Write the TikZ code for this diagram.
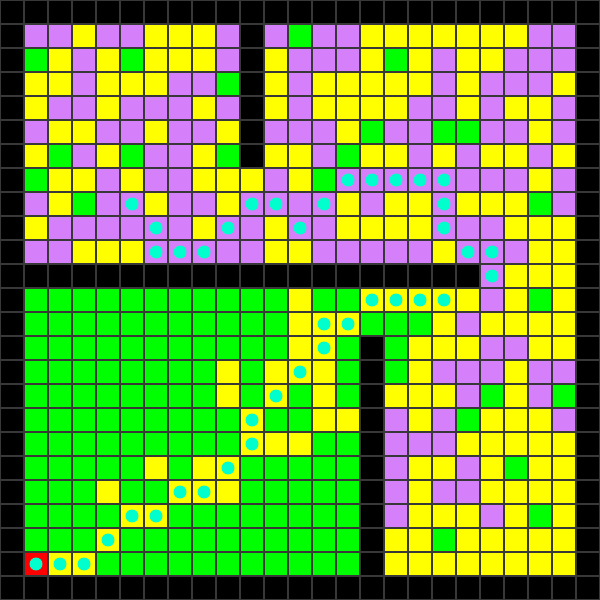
\documentclass[tikz,border=0pt]{standalone}
\usepackage{xcolor}
\usepackage{tikz}

\definecolor{colB}{RGB}{0,0,0}
\definecolor{colP}{RGB}{213,128,250}
\definecolor{colY}{RGB}{255,255,0}
\definecolor{colG}{RGB}{0,255,0}
\definecolor{colR}{RGB}{255,0,0}
\definecolor{gridc}{RGB}{56,56,56}
\definecolor{dotc}{RGB}{0,255,204}

\begin{document}
\begin{tikzpicture}[
    x=4mm, y=-4mm,
    cell/.style={line width=0pt},
    pathdot/.style={fill=dotc, draw=none}
]
\useasboundingbox (0,0) rectangle (25,25);
\fill[gridc] (0,0) rectangle (25,25);

% maze cells, one row of letters per line
\foreach \row [count=\r from 0] in {
  {B,B,B,B,B,B,B,B,B,B,B,B,B,B,B,B,B,B,B,B,B,B,B,B,B},
  {B,P,P,Y,P,P,Y,Y,Y,P,B,P,G,P,P,Y,Y,Y,Y,Y,Y,Y,P,P,B},
  {B,G,Y,P,Y,G,Y,Y,Y,P,B,Y,P,P,P,Y,G,Y,P,Y,Y,P,P,P,B},
  {B,Y,Y,P,Y,Y,Y,P,P,G,B,Y,P,Y,Y,Y,Y,Y,P,Y,P,P,P,Y,B},
  {B,Y,P,P,Y,P,P,P,Y,P,B,Y,P,Y,Y,Y,Y,P,P,Y,P,Y,Y,P,B},
  {B,P,Y,Y,P,P,Y,P,P,Y,B,P,P,P,Y,G,P,P,G,G,P,P,Y,P,B},
  {B,Y,G,P,Y,G,P,P,Y,G,B,Y,Y,P,G,Y,Y,P,Y,P,Y,Y,P,Y,B},
  {B,G,Y,Y,P,Y,P,P,Y,Y,Y,P,Y,G,P,P,P,P,P,P,P,P,Y,P,B},
  {B,P,Y,G,P,P,Y,P,P,Y,P,P,P,P,Y,P,Y,Y,P,Y,Y,Y,G,P,B},
  {B,Y,P,P,P,P,P,P,Y,P,P,Y,P,P,Y,Y,Y,Y,P,P,P,Y,Y,Y,B},
  {B,P,P,Y,Y,Y,P,P,P,P,P,Y,Y,P,P,P,P,P,Y,P,P,P,Y,Y,B},
  {B,B,B,B,B,B,B,B,B,B,B,B,B,B,B,B,B,B,B,B,P,Y,Y,Y,B},
  {B,G,G,G,G,G,G,G,G,G,G,G,Y,G,G,Y,Y,Y,Y,Y,P,Y,G,Y,B},
  {B,G,G,G,G,G,G,G,G,G,G,G,Y,Y,Y,G,G,G,Y,P,Y,Y,Y,Y,B},
  {B,G,G,G,G,G,G,G,G,G,G,G,Y,Y,G,B,G,Y,Y,Y,P,P,Y,Y,B},
  {B,G,G,G,G,G,G,G,G,Y,G,Y,Y,Y,G,B,G,Y,P,P,P,Y,P,P,B},
  {B,G,G,G,G,G,G,G,G,Y,G,Y,G,Y,G,B,Y,Y,Y,P,G,Y,P,G,B},
  {B,G,G,G,G,G,G,G,G,G,Y,G,G,Y,Y,B,P,Y,P,G,Y,Y,Y,P,B},
  {B,G,G,G,G,G,G,G,G,G,Y,Y,Y,G,G,B,P,P,P,Y,Y,Y,Y,Y,B},
  {B,G,G,G,G,G,Y,G,Y,Y,G,G,G,G,G,B,P,Y,Y,P,Y,G,Y,Y,B},
  {B,G,G,G,Y,G,G,Y,Y,Y,G,G,G,G,G,B,P,Y,P,P,Y,Y,Y,Y,B},
  {B,G,G,G,G,Y,Y,G,G,G,G,G,G,G,G,B,P,Y,Y,Y,P,Y,G,Y,B},
  {B,G,G,G,Y,G,G,G,G,G,G,G,G,G,G,B,Y,Y,G,Y,Y,Y,Y,Y,B},
  {B,R,Y,Y,G,G,G,G,G,G,G,G,G,G,G,B,Y,Y,Y,Y,Y,Y,Y,Y,B},
  {B,B,B,B,B,B,B,B,B,B,B,B,B,B,B,B,B,B,B,B,B,B,B,B,B}}
{
  \foreach \c [count=\k from 0] in \row
    \fill[col\c, cell] (\k+0.0417,\r+0.0417) rectangle ++(0.9167,0.9167);
}

% solution path markers (row/column)
\foreach \r/\k in {23/1,23/2,23/3,22/4,21/5,21/6,20/7,20/8,19/9,18/10,17/10,
    16/11,15/12,14/13,13/13,13/14,12/15,12/16,12/17,12/18,11/20,10/19,10/20,
    9/18,8/18,7/14,7/15,7/16,7/17,7/18,8/13,9/12,8/11,8/10,9/9,10/8,10/7,
    10/6,9/6,8/5}
  \fill[pathdot] (\k+0.5,\r+0.5) circle (0.27);
\end{tikzpicture}
\end{document}
